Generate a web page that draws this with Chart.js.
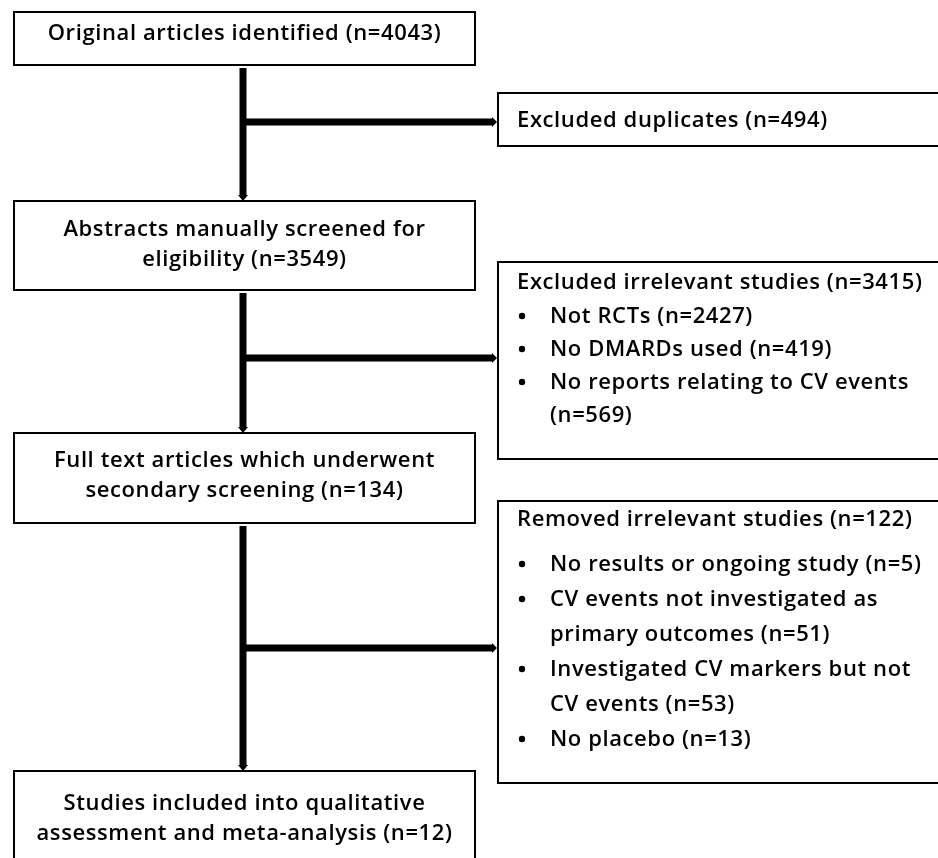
<!DOCTYPE html>
<html>
<head>
<meta charset="utf-8">
<script src="https://cdn.jsdelivr.net/npm/chart.js@4"></script>
<style>
  html, body { margin: 0; padding: 0; background: #fff; }
  #wrap { width: 938px; height: 858px; }
</style>
</head>
<body>
<div id="wrap"><canvas id="flow" width="938" height="858"></canvas></div>
<script>
// Main flow stages (left column) and their counts
const stageLabels = [
  'Original articles identified',
  'Abstracts manually screened for\neligibility',
  'Full text articles which underwent\nsecondary screening',
  'Studies included into qualitative\nassessment and meta-analysis'
];
const stageCounts = [4043, 3549, 134, 12];

// Exclusions (right column)
const exclusionLabels = ['Excluded duplicates', 'Excluded irrelevant studies', 'Removed irrelevant studies'];
const exclusionCounts = [494, 3415, 122];

// Reasons listed under each exclusion box
const reasonLabels = [
  [],
  ['Not RCTs', 'No DMARDs used', 'No reports relating to CV events\n'],
  ['No results or ongoing study', 'CV events not investigated as\nprimary outcomes', 'Investigated CV markers but not\nCV events', 'No placebo']
];
const reasonCounts = [
  [],
  [2427, 419, 569],
  [5, 51, 53, 13]
];

// Layout of the diagram (in axis units, axes span the picture)
const layout = {
  leftBox: { x0: 14, x1: 475 },
  stageY: [[12, 65], [201, 290], [433, 523], [771, 875]],
  stageFirstLine: [40, 236, 467, 810],
  stageStep: 30,
  rightBox: { x0: 498, x1: 960 },
  exclY: [[93, 146], [262, 459], [501, 783]],
  exclFirstLine: [127, 289, 526],
  reasonFirstLine: [0, 323, 571],
  lineStep: [0, 33, 35],
  spineX: 243,
  branchY: [122, 358, 648]
};

const FONT = '600 22px "Open Sans", Lato, sans-serif';

function withCount(label, n) {
  const sep = label.endsWith('\n') ? '' : ' ';
  return label + sep + '(n=' + n + ')';
}

const flowPlugin = {
  id: 'flow',
  afterDraw(chart) {
    const ctx = chart.ctx;
    const sx = v => chart.scales.x.getPixelForValue(v);
    const sy = v => chart.scales.y.getPixelForValue(v);

    ctx.save();
    ctx.fillStyle = '#fff';
    ctx.fillRect(0, 0, chart.width, chart.height);

    // boxes
    ctx.strokeStyle = '#000';
    ctx.lineWidth = 2;
    layout.stageY.forEach(([y0, y1]) => {
      ctx.strokeRect(sx(layout.leftBox.x0), sy(y0), sx(layout.leftBox.x1) - sx(layout.leftBox.x0), sy(y1) - sy(y0));
    });
    layout.exclY.forEach(([y0, y1]) => {
      ctx.strokeRect(sx(layout.rightBox.x0), sy(y0), sx(layout.rightBox.x1) - sx(layout.rightBox.x0), sy(y1) - sy(y0));
    });

    // connectors
    ctx.lineWidth = 7;
    ctx.lineCap = 'butt';
    ctx.fillStyle = '#000';
    for (let i = 0; i < 3; i++) {
      const top = layout.stageY[i][1] + 3;
      const bottom = layout.stageY[i + 1][0] - 5;
      ctx.beginPath();
      ctx.moveTo(sx(layout.spineX), sy(top));
      ctx.lineTo(sx(layout.spineX), sy(bottom));
      ctx.stroke();
      // arrow tip down
      ctx.beginPath();
      ctx.moveTo(sx(layout.spineX) - 5, sy(bottom) - 1);
      ctx.lineTo(sx(layout.spineX) + 5, sy(bottom) - 1);
      ctx.lineTo(sx(layout.spineX), sy(layout.stageY[i + 1][0]));
      ctx.closePath();
      ctx.fill();

      const by = layout.branchY[i];
      const bEnd = layout.rightBox.x0 - 5;
      ctx.beginPath();
      ctx.moveTo(sx(layout.spineX), sy(by));
      ctx.lineTo(sx(bEnd), sy(by));
      ctx.stroke();
      ctx.beginPath();
      ctx.moveTo(sx(bEnd) - 1, sy(by) - 5);
      ctx.lineTo(sx(bEnd) - 1, sy(by) + 5);
      ctx.lineTo(sx(layout.rightBox.x0 - 1), sy(by));
      ctx.closePath();
      ctx.fill();
    }

    // stage texts (centred)
    ctx.font = FONT;
    ctx.letterSpacing = '0.6px';
    ctx.fillStyle = '#000';
    ctx.textBaseline = 'alphabetic';
    ctx.textAlign = 'center';
    const cx = sx((layout.leftBox.x0 + layout.leftBox.x1) / 2);
    stageLabels.forEach((lab, i) => {
      const lines = withCount(lab, stageCounts[i]).split('\n');
      lines.forEach((t, k) => {
        ctx.fillText(t, cx, sy(layout.stageFirstLine[i] + k * layout.stageStep));
      });
    });

    // exclusion texts
    ctx.textAlign = 'left';
    exclusionLabels.forEach((lab, i) => {
      ctx.fillText(withCount(lab, exclusionCounts[i]), sx(517), sy(layout.exclFirstLine[i]));
      let y = layout.reasonFirstLine[i];
      reasonLabels[i].forEach((r, j) => {
        const lines = withCount(r, reasonCounts[i][j]).split('\n');
        ctx.beginPath();
        ctx.arc(sx(522), sy(y) - 7, 3.2, 0, Math.PI * 2);
        ctx.fill();
        lines.forEach(t => {
          ctx.fillText(t, sx(550), sy(y));
          y += layout.lineStep[i];
        });
      });
    });
    ctx.restore();
  }
};

new Chart(document.getElementById('flow').getContext('2d'), {
  type: 'scatter',
  data: { datasets: [{ data: [], pointRadius: 0 }] },
  options: {
    responsive: false,
    animation: false,
    layout: { padding: 0 },
    scales: {
      x: { type: 'linear', min: 0, max: 938, display: false },
      y: { type: 'linear', min: 0, max: 858, reverse: true, display: false }
    },
    plugins: {
      legend: { display: false },
      tooltip: { enabled: false }
    }
  },
  plugins: [flowPlugin]
});
</script>
</body>
</html>
